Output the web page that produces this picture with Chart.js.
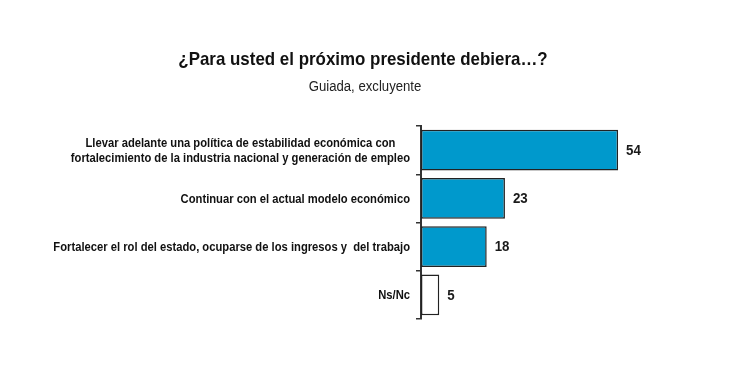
<!DOCTYPE html>
<html><head><meta charset="utf-8">
<script src="https://cdn.jsdelivr.net/npm/chart.js@4/dist/chart.umd.min.js"></script>
<style>html,body{margin:0;padding:0;background:#fff}#w{width:749px;height:382px;position:relative}</style>
</head><body><div id="w"><canvas id="c"></canvas></div>
<script>
const titleText = '¿Para usted el próximo presidente debiera…?';
const subtitleText = 'Guiada, excluyente';
const categories = [
  ["Llevar adelante una política de estabilidad económica con","fortalecimiento de la industria nacional y generación de empleo"],
  "Continuar con el actual modelo económico",
  "Fortalecer el rol del estado, ocuparse de los ingresos y  del trabajo",
  "Ns/Nc"
];
const values = [54, 23, 18, 5];
const barColors = ["#0099CC","#0099CC","#0099CC","#FFFFFF"];
const FONT = "'Liberation Sans',Arial,sans-serif";

function condensed(ctx, text, x, y, sx, align) {
  ctx.save();
  ctx.translate(x, y);
  ctx.scale(sx, 1);
  ctx.textAlign = align;
  ctx.fillText(text, 0, 0);
  ctx.restore();
}

const labelPlugin = {
  id: 'labels',
  afterDraw(chart) {
    const ctx = chart.ctx;
    const meta = chart.getDatasetMeta(0);
    const y = chart.scales.y;
    ctx.save();
    ctx.textBaseline = 'middle';
    // title + subtitle
    ctx.fillStyle = '#111';
    ctx.font = 'bold 19px ' + FONT;
    condensed(ctx, titleText, 363, 60, 0.89, 'center');
    ctx.fillStyle = '#222';
    ctx.font = '14px ' + FONT;
    condensed(ctx, subtitleText, 365, 87, 0.94, 'center');
    // values
    ctx.fillStyle = '#1a1a1a';
    ctx.font = 'bold 14px ' + FONT;
    meta.data.forEach((b, i) => {
      condensed(ctx, String(values[i]), b.x + 8, b.y + 1, 0.95, 'left');
    });
    // category labels
    ctx.fillStyle = '#111';
    ctx.font = 'bold 12px ' + FONT;
    const sx = 0.935;
    const rightX = y.right - 11;
    categories.forEach((lab, i) => {
      const lines = Array.isArray(lab) ? lab : [lab];
      const cy = y.getPixelForValue(i);
      let mw = 0;
      lines.forEach(l => { mw = Math.max(mw, ctx.measureText(l).width * sx); });
      const cx = rightX - mw / 2;
      const lh = 15;
      lines.forEach((l, k) => {
        condensed(ctx, l, cx, cy + 1 + (k - (lines.length - 1) / 2) * lh, sx, 'center');
      });
    });
    ctx.restore();
  }
};

new Chart(document.getElementById('c'), {
  type: 'bar',
  data: {
    labels: categories,
    datasets: [{
      data: values,
      backgroundColor: barColors,
      borderColor: '#222',
      borderWidth: 1.5,
      borderSkipped: false,
      barPercentage: 0.84,
      categoryPercentage: 1
    }]
  },
  options: {
    indexAxis: 'y',
    responsive: true,
    maintainAspectRatio: false,
    animation: false,
    layout: { padding: { left: 0, right: 36, top: 126, bottom: 63 } },
    plugins: {
      legend: { display: false },
      tooltip: { enabled: false },
      title: { display: false },
      subtitle: { display: false }
    },
    scales: {
      x: {
        display: false,
        min: 0,
        max: 80
      },
      y: {
        afterFit(s) { s.width = 421; },
        border: { display: true, color: '#333', width: 2 },
        grid: { offset: true, drawOnChartArea: false, drawTicks: true, tickLength: 5, color: '#333', lineWidth: 1.5 },
        ticks: { display: false }
      }
    }
  },
  plugins: [labelPlugin]
});
</script>
</body></html>
